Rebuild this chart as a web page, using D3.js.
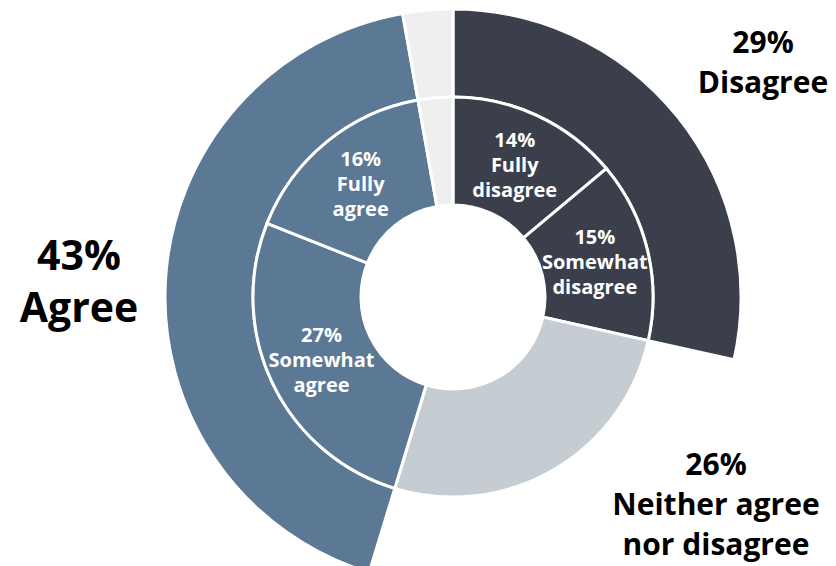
<!DOCTYPE html>
<html>
<head>
<meta charset="utf-8">
<script src="https://cdn.jsdelivr.net/npm/d3@7"></script>
<style>
  html, body { margin: 0; padding: 0; background: #ffffff; }
  svg { display: block; }
  text { font-family: "Open Sans", "Noto Sans", sans-serif; font-weight: 700; }
</style>
</head>
<body>
<svg id="chart" width="836" height="566"></svg>
<script>
// ---- Data (shares in %) ----
const innerCategories = ["Fully disagree", "Somewhat disagree", "Neither agree nor disagree", "Somewhat agree", "Fully agree", "No answer"];
const innerValues     = [13.9, 14.6, 26.2, 26.3, 16.2, 2.8];
const innerGroups     = ["Disagree", "Disagree", "Neither", "Agree", "Agree", "None"];
const innerLabels     = [["14%", "Fully", "disagree"], ["15%", "Somewhat", "disagree"], null, ["27%", "Somewhat", "agree"], ["16%", "Fully", "agree"], null];

const outerCategories = ["Disagree", "Neither", "Agree", "None"];
const outerShown      = [true, false, true, true];
const outerLabels     = [["29%", "Disagree"], ["26%", "Neither agree", "nor disagree"], ["43%", "Agree"], null];

const groupColors = { Disagree: "#3b3e4b", Neither: "#c5cdd2", Agree: "#5b7894", None: "#efefef" };

// ---- Layout ----
const svg = d3.select("#chart");
const cx = 453, cy = 297;
const rHole = 92, rMid = 200, rOuter = 288;

const g = svg.append("g").attr("transform", `translate(${cx},${cy})`);

const innerPie = d3.pie().sort(null).value(d => d.value);
const innerData = innerPie(innerCategories.map((c, i) => ({ cat: c, value: innerValues[i], group: innerGroups[i], label: innerLabels[i] })));

const outerValues = outerCategories.map(oc => d3.sum(innerValues.filter((v, i) => innerGroups[i] === oc)));
const outerPie = d3.pie().sort(null).value(d => d.value);
const outerData = outerPie(outerCategories.map((c, i) => ({ cat: c, value: outerValues[i], shown: outerShown[i], label: outerLabels[i] })));

const innerArc = d3.arc().innerRadius(rHole).outerRadius(rMid);
const outerArc = d3.arc().innerRadius(rMid).outerRadius(rOuter);

g.selectAll("path.outer")
  .data(outerData.filter(d => d.data.shown))
  .join("path")
  .attr("class", "outer")
  .attr("d", outerArc)
  .attr("fill", d => groupColors[d.data.cat])
  .attr("stroke", "#ffffff")
  .attr("stroke-width", 3)
  .attr("stroke-linejoin", "miter");

g.selectAll("path.inner")
  .data(innerData)
  .join("path")
  .attr("class", "inner")
  .attr("d", innerArc)
  .attr("fill", d => groupColors[d.data.group])
  .attr("stroke", "#ffffff")
  .attr("stroke-width", 3)
  .attr("stroke-linejoin", "miter");

// inner labels at centroids
const lh = 25;
innerData.filter(d => d.data.label).forEach(d => {
  const [x, y] = innerArc.centroid(d);
  const lines = d.data.label;
  const t = g.append("text")
    .attr("text-anchor", "middle")
    .attr("fill", "#ffffff")
    .attr("font-size", 20);
  lines.forEach((ln, i) => {
    t.append("tspan")
      .attr("x", x)
      .attr("y", y + 7 + (i - (lines.length - 1) / 2) * lh)
      .text(ln);
  });
});

// outer labels (annotation positions)
const outerLabelPos = {
  Disagree: { x: 763, y0: 53, lh: 40, size: 30 },
  Neither:  { x: 716, y0: 475, lh: 40, size: 30 },
  Agree:    { x: 79,  y0: 270, lh: 52, size: 41 }
};
outerData.filter(d => d.data.label).forEach(d => {
  const p = outerLabelPos[d.data.cat];
  const t = svg.append("text")
    .attr("text-anchor", "middle")
    .attr("fill", "#000000")
    .attr("font-size", p.size);
  d.data.label.forEach((ln, i) => {
    t.append("tspan").attr("x", p.x).attr("y", p.y0 + i * p.lh).text(ln);
  });
});
</script>
</body>
</html>
